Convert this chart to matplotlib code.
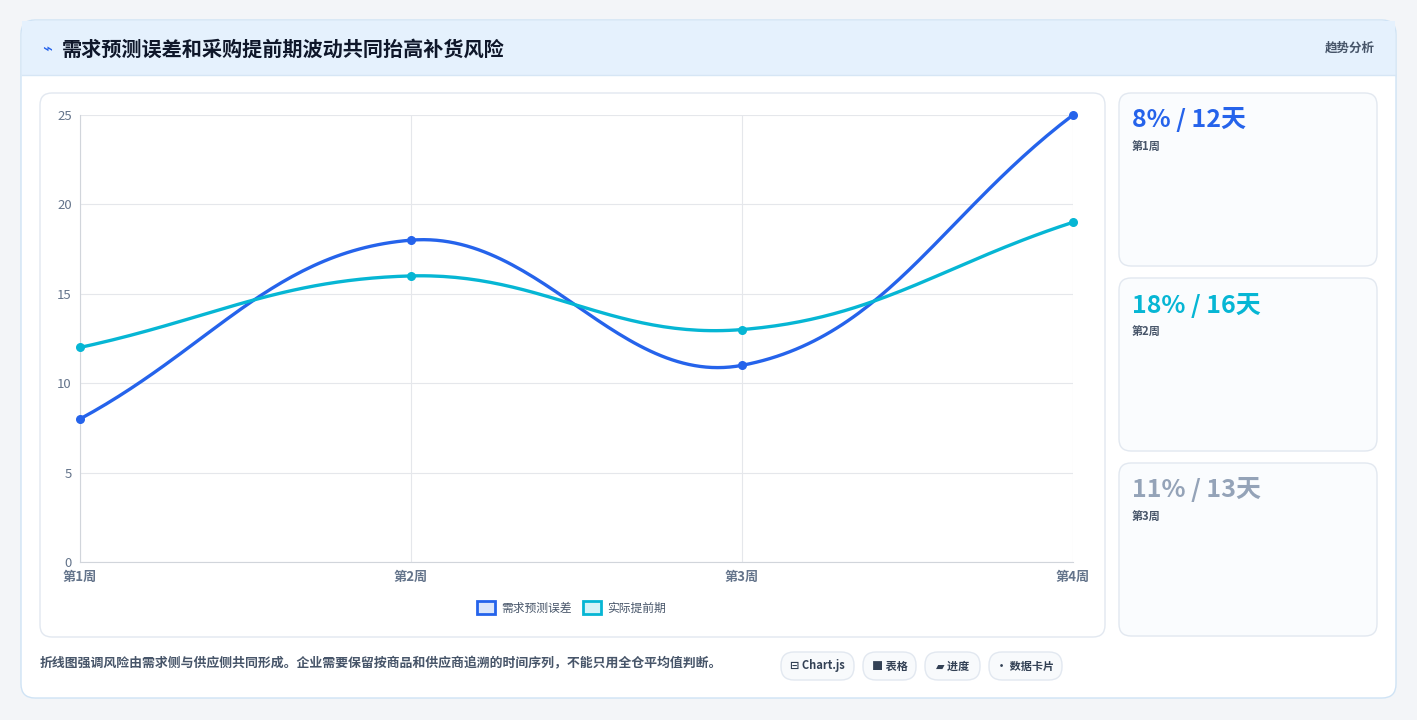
import numpy as np
import matplotlib
matplotlib.use("Agg")
import matplotlib.pyplot as plt
from matplotlib.patches import FancyBboxPatch, Rectangle

plt.rcParams['font.family'] = ['Noto Sans CJK SC', 'DejaVu Sans']

weeks = ["第1周", "第2周", "第3周", "第4周"]
demand_error = [8, 18, 11, 25]
lead_time = [12, 16, 13, 19]
series_names = ["需求预测误差", "实际提前期"]
yticks = [0, 5, 10, 15, 20, 25]
cards = [("8% / 12天", "第1周", "#2563eb"), ("18% / 16天", "第2周", "#06b6d4"), ("11% / 13天", "第3周", "#94a3b8")]
chips = ["⊟ Chart.js", "■ 表格", "▰ 进度", "• 数据卡片"]
title = "需求预测误差和采购提前期波动共同抬高补货风险"
footnote = "折线图强调风险由需求侧与供应侧共同形成。企业需要保留按商品和供应商追溯的时间序列，不能只用全仓平均值判断。"

W, H = 1417, 720
fig = plt.figure(figsize=(W/100, H/100), dpi=100)
fig.patch.set_facecolor("#f3f5f8")
bg = fig.add_axes([0, 0, 1, 1])
bg.set_xlim(0, W); bg.set_ylim(H, 0); bg.axis("off")

def rbox(x, y, w, h, r, fc, ec, lw=1, z=0):
    bg.add_patch(FancyBboxPatch((x+r, y+r), w-2*r, h-2*r, boxstyle=f"round,pad={r}",
                                fc=fc, ec=ec, lw=lw, zorder=z))

rbox(21, 20, 1375, 678, 14, "white", "#cfe3f5", 1)
bg.add_patch(Rectangle((22, 21), 1373, 54, fc="#e5f1fd", ec="none", zorder=1))
bg.plot([22, 1395], [75, 75], color="#d6e6f5", lw=1, zorder=2)
bg.text(42, 49, "⌁", fontsize=12, color="#2563eb", va="center", zorder=3)
bg.text(62, 49, title, fontsize=14.5, weight="bold", color="#0f172a", va="center", zorder=3)
bg.text(1375, 48, "趋势分析", fontsize=9, weight="bold", color="#475569", ha="right", va="center", zorder=3)

rbox(40, 93, 1065, 544, 12, "white", "#e2e8f0", 1)
for i, (big, small, col) in enumerate(cards):
    y0 = 93 + i*185
    rbox(1119, y0, 258, 173, 12, "#fafcfe", "#e2e8f0", 1)
    bg.text(1132, y0+27, big, fontsize=18, weight="bold", color=col, va="center")
    bg.text(1132, y0+53, small, fontsize=8, weight="bold", color="#475569", va="center")

bg.text(40, 663, footnote, fontsize=9.3, weight="bold", color="#475569", va="center")
cx = [781, 863, 925, 989]
cw = [73, 53, 55, 73]
for x, w, t in zip(cx, cw, chips):
    rbox(x, 652, w, 28, 13, "#f8fafc", "#e2e8f0", 1)
    bg.text(x+w/2, 666, t, fontsize=8, weight="bold", color="#334155", ha="center", va="center")

# chart
ax = fig.add_axes([80/W, (H-562)/H, 993/W, 447/H])
ax.set_facecolor("none")
xs = np.arange(len(weeks))

def spline(xv, yv, t=0.4, n=60):
    xv = np.asarray(xv, float); yv = np.asarray(yv, float)
    px, py = [], []
    for i in range(len(xv)-1):
        p0 = (xv[max(i-1, 0)], yv[max(i-1, 0)]); p1 = (xv[i], yv[i])
        p2 = (xv[i+1], yv[i+1]); p3 = (xv[min(i+2, len(xv)-1)], yv[min(i+2, len(xv)-1)])
        def ctrl(a, b, c):
            d01 = np.hypot(b[0]-a[0], b[1]-a[1]); d12 = np.hypot(c[0]-b[0], c[1]-b[1])
            s = d01+d12
            fa = t*d01/s if s else 0; fb = t*d12/s if s else 0
            prev = (b[0]-fa*(c[0]-a[0]), b[1]-fa*(c[1]-a[1]))
            nxt = (b[0]+fb*(c[0]-a[0]), b[1]+fb*(c[1]-a[1]))
            return prev, nxt
        _, c1 = ctrl(p0, p1, p2)
        c2, _ = ctrl(p1, p2, p3)
        s = np.linspace(0, 1, n)
        bx = (1-s)**3*p1[0]+3*(1-s)**2*s*c1[0]+3*(1-s)*s**2*c2[0]+s**3*p2[0]
        by = (1-s)**3*p1[1]+3*(1-s)**2*s*c1[1]+3*(1-s)*s**2*c2[1]+s**3*p2[1]
        px.extend(bx); py.extend(by)
    return px, py

sx, sy = 993/3, 447/25
for vals, col in [(demand_error, "#2563eb"), (lead_time, "#06b6d4")]:
    px, py = spline(xs*sx, np.array(vals)*sy)
    ax.plot(np.array(px)/sx, np.array(py)/sy, color=col, lw=2.4, zorder=3, clip_on=False)
    ax.scatter(xs, vals, s=30, color=col, edgecolor=col, zorder=4, clip_on=False)

ax.set_xlim(0, 3); ax.set_ylim(0, 25)
ax.set_yticks(yticks)
ax.set_xticks(xs, weeks)
ax.grid(color="#e5e7eb", lw=0.8)
for s in ["top", "right"]:
    ax.spines[s].set_visible(False)
ax.spines["left"].set_color("#d1d5db"); ax.spines["bottom"].set_color("#d1d5db")
ax.tick_params(colors="#64748b", labelsize=9.5, length=0, pad=6)
for lab in ax.get_xticklabels():
    lab.set_fontweight("bold")

for x, name, col, fc in [(477, series_names[0], "#2563eb", "#dbe6fb"), (583, series_names[1], "#06b6d4", "#d5f3f8")]:
    bg.add_patch(Rectangle((x, 601), 18, 13, fc=fc, ec=col, lw=2, zorder=3))
    bg.text(x+24, 608, name, fontsize=8.5, color="#475569", va="center")

fig.savefig("out.png", dpi=100, facecolor=fig.get_facecolor())
